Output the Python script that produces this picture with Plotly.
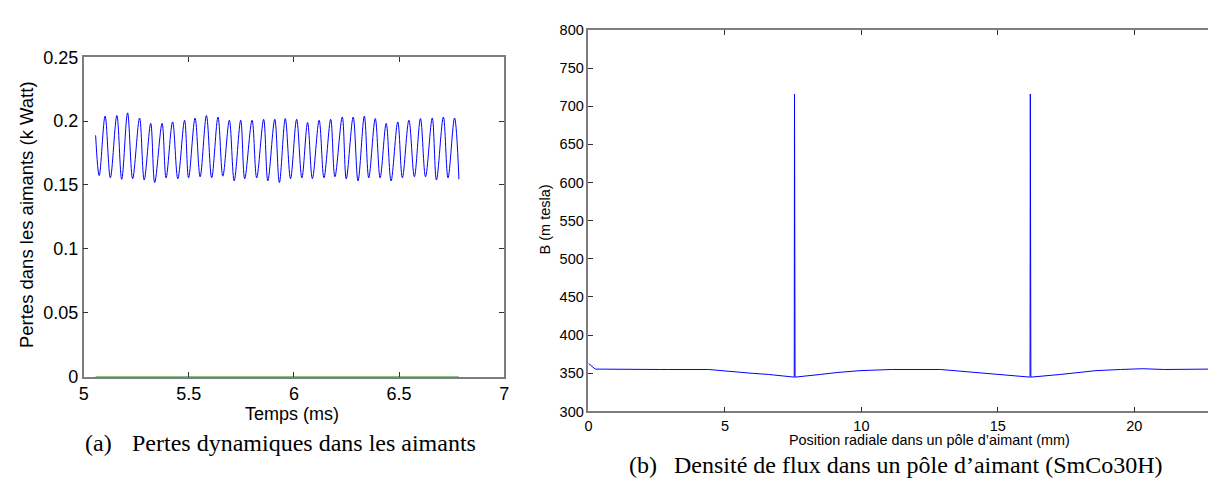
import plotly.graph_objects as go

W, H = 1213, 486

# ---- (a) dynamic losses in the magnets: sampled extrema of the loss signal ----
t_ms = [5.057, 5.074, 5.102, 5.127, 5.158, 5.181, 5.209, 5.233, 5.266, 5.288,
        5.319, 5.338, 5.373, 5.392, 5.423, 5.448, 5.480, 5.499, 5.530, 5.554,
        5.584, 5.609, 5.639, 5.662, 5.693, 5.716, 5.747, 5.766, 5.801, 5.823,
        5.856, 5.876, 5.909, 5.931, 5.959, 5.984, 6.013, 6.038, 6.065, 6.088,
        6.120, 6.143, 6.175, 6.195, 6.230, 6.249, 6.282, 6.305, 6.335, 6.356,
        6.387, 6.410, 6.439, 6.462, 6.494, 6.516, 6.547, 6.573, 6.602, 6.626,
        6.658, 6.678, 6.711, 6.733, 6.764, 6.785]
pertes_kw = [0.1889, 0.1574, 0.2039, 0.1556, 0.2044, 0.1544, 0.2065, 0.1549, 0.2024, 0.1539,
             0.1982, 0.1519, 0.1982, 0.1556, 0.1994, 0.1549, 0.2007, 0.1556, 0.2024, 0.1564,
             0.2044, 0.1556, 0.2032, 0.1569, 0.2007, 0.1532, 0.2007, 0.1549, 0.2007, 0.1556,
             0.2014, 0.1532, 0.2014, 0.1519, 0.2020, 0.1549, 0.2014, 0.1556, 0.1989, 0.1549,
             0.2007, 0.1556, 0.2014, 0.1564, 0.2032, 0.1549, 0.2032, 0.1532, 0.2039, 0.1556,
             0.2020, 0.1556, 0.1982, 0.1532, 0.1994, 0.1556, 0.2007, 0.1564, 0.2020, 0.1564,
             0.2024, 0.1539, 0.2032, 0.1556, 0.2024, 0.1544]
t_zero = [5.057, 6.785]
pertes_zero = [0.0, 0.0]

xa_ticks = [5, 5.5, 6, 6.5, 7]
xa_labels = ["5", "5.5", "6", "6.5", "7"]
ya_ticks = [0, 0.05, 0.1, 0.15, 0.2, 0.25]
ya_labels = ["0", "0.05", "0.1", "0.15", "0.2", "0.25"]

# ---- (b) flux density along a magnet pole (SmCo30H) ----
pos_mm = [0.0, 0.25, 2.6, 2.77, 2.9, 4.4, 5.1, 6.0, 6.6, 7.54, 7.55, 7.56, 7.57,
          8.5, 9.1, 9.95, 11.1, 12.9, 13.8, 14.6, 15.4, 16.18, 16.19, 16.20, 16.21,
          17.3, 17.9, 18.6, 19.5, 20.3, 21.1, 22.7]
b_mtesla = [363, 355.5, 355, 355.5, 355, 355, 352.5, 350, 348.5, 345, 716, 530, 345,
            348.5, 351, 353.5, 355, 355, 352.5, 350, 348, 345, 716, 530, 345,
            348.5, 351, 353.5, 355, 356, 355, 355.5]

xb_ticks = [0, 5, 10, 15, 20]
xb_labels = ["0", "5", "10", "15", "20"]
yb_ticks = [300, 350, 400, 450, 500, 550, 600, 650, 700, 750, 800]
yb_labels = [str(v) for v in yb_ticks]


def px(x):
    return x / W


def py(y):
    return 1 - y / H


SANS = "Liberation Sans, Arial, sans-serif"
SERIF = "Liberation Serif, Times New Roman, serif"
AXIS_GREY = "#7d7d7d"

fig = go.Figure()

fig.add_trace(go.Scatter(x=t_ms, y=pertes_kw, mode="lines", xaxis="x", yaxis="y",
                         line=dict(color="#0000ff", width=1, shape="spline", smoothing=1),
                         showlegend=False, hoverinfo="skip"))
fig.add_trace(go.Scatter(x=t_zero, y=pertes_zero, mode="lines", xaxis="x", yaxis="y",
                         line=dict(color="#008000", width=1),
                         showlegend=False, hoverinfo="skip"))
fig.add_trace(go.Scatter(x=pos_mm, y=b_mtesla, mode="lines", xaxis="x2", yaxis="y2",
                         line=dict(color="#0000ff", width=1),
                         showlegend=False, hoverinfo="skip"))

common = dict(showgrid=False, zeroline=False, showline=True, linecolor=AXIS_GREY,
              linewidth=1.5, ticks="inside", ticklen=5, tickcolor="#333333", tickwidth=1)

fig.update_layout(
    width=W, height=H, autosize=False,
    margin=dict(l=0, r=0, t=0, b=0),
    paper_bgcolor="white", plot_bgcolor="white",
    xaxis=dict(domain=[px(79.3), px(503.3)], anchor="y", range=[5, 7],
               tickvals=xa_ticks, ticktext=xa_labels, mirror="ticks",
               tickfont=dict(family=SANS, size=18, color="black"), **common),
    yaxis=dict(domain=[py(382.3), py(49.3)], anchor="x", range=[0, 0.25],
               tickvals=ya_ticks, ticktext=ya_labels, mirror="ticks",
               tickfont=dict(family=SANS, size=18, color="black"), **common),
    xaxis2=dict(domain=[px(588.3), 1.0], anchor="y2", range=[0, 22.7],
                tickvals=xb_ticks, ticktext=xb_labels, mirror="ticks",
                tickfont=dict(family=SANS, size=14.5, color="black"), **common),
    yaxis2=dict(domain=[py(418.7), py(20.7)], anchor="x2", range=[300, 800],
                tickvals=yb_ticks, ticktext=yb_labels, mirror=False,
                tickfont=dict(family=SANS, size=14.5, color="black"), **common),
)

annotations = [
    dict(text="Pertes dans les aimants (k Watt)", x=px(21), y=py(213), textangle=-90,
         font=dict(family=SANS, size=18.5, color="black")),
    dict(text="Temps (ms)", x=px(289), y=py(421),
         font=dict(family=SANS, size=18, color="black")),
    dict(text="(a)", x=px(94.5), y=py(452),
         font=dict(family=SERIF, size=24, color="black")),
    dict(text="Pertes dynamiques dans les aimants", x=px(301), y=py(452),
         font=dict(family=SERIF, size=24, color="black")),
    dict(text="B (m tesla)", x=px(544), y=py(219), textangle=-90,
         font=dict(family=SANS, size=14.5, color="black")),
    dict(text="Position radiale dans un pôle d\u2019aimant (mm)", x=px(932), y=py(448),
         font=dict(family=SANS, size=14.4, color="black")),
    dict(text="(b)", x=px(643), y=py(475),
         font=dict(family=SERIF, size=24, color="black")),
    dict(text="Densité de flux dans un pôle d\u2019aimant (SmCo30H)", x=px(921), y=py(475),
         font=dict(family=SERIF, size=24, color="black")),
]
for a in annotations:
    a.update(xref="paper", yref="paper", showarrow=False, xanchor="center", yanchor="middle")
fig.update_layout(annotations=annotations)

fig.write_html("out.html")
